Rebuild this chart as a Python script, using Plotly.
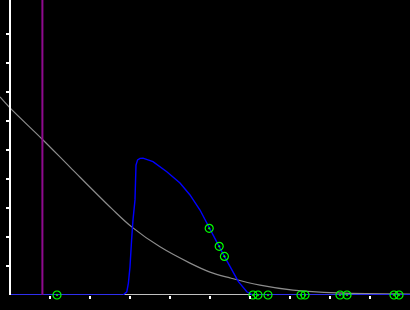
import plotly.graph_objects as go

# grey reference curve
grey_x = [-0.25, 0.0, 0.8, 1.5, 2.55, 3.05, 3.75, 4.5, 5.0, 5.5, 6.25, 7.075, 8.175, 10.0]
grey_y = [6.83, 6.45, 5.38, 4.41, 2.97, 2.34, 1.66, 1.10, 0.79, 0.59, 0.34, 0.17, 0.07, 0.03]

# blue density curve
blue_x = [0.0, 2.825, 2.92, 2.96, 3.0, 3.02, 3.04, 3.075, 3.125, 3.15, 3.19, 3.25, 3.325,
          3.575, 3.92, 4.25, 4.5, 4.75, 4.98, 5.23, 5.36, 5.71, 5.92, 6.075, 10.25]
blue_y = [0.0, 0.0, 0.11, 0.41, 0.97, 1.55, 1.9, 2.59, 3.28, 4.48, 4.66, 4.71, 4.72,
          4.6, 4.25, 3.86, 3.45, 2.93, 2.30, 1.67, 1.33, 0.46, 0.11, 0.0, 0.0]

# green sample points
pts_x = [1.175, 6.075, 6.2, 6.45, 7.275, 7.375, 8.25, 8.425, 9.6, 9.725, 4.98, 5.23, 5.36]
pts_y = [0, 0, 0, 0, 0, 0, 0, 0, 0, 0, 2.30, 1.68, 1.33]

# purple marker line
purple_x = 0.81

tick_vals_x = [1, 2, 3, 4, 5, 6, 7, 8, 9]
tick_vals_y = [1, 2, 3, 4, 5, 6, 7, 8, 9]

fig = go.Figure()

fig.add_trace(go.Scatter(x=grey_x, y=grey_y, mode="lines",
                         line=dict(color="#8c8c8c", width=1.2, shape="spline"),
                         hoverinfo="skip"))
fig.add_trace(go.Scatter(x=blue_x, y=blue_y, mode="lines",
                         line=dict(color="#0000ff", width=1.4),
                         hoverinfo="skip"))
fig.add_vline(x=purple_x, line=dict(color="#8e0a8e", width=2))
fig.add_trace(go.Scatter(x=pts_x, y=pts_y, mode="markers", cliponaxis=False,
                         marker=dict(symbol="circle-open-dot", size=8,
                                     color="#00ff00", line=dict(width=1.2, color="#00ff00")),
                         hoverinfo="skip"))

# x axis baseline (from origin to right edge)
fig.add_shape(type="line", xref="x", yref="y", x0=0, x1=10.25, y0=0, y1=0,
              line=dict(color="white", width=1.5), layer="below")

fig.update_layout(
    width=410, height=310,
    margin=dict(l=0, r=0, t=0, b=15, pad=0),
    paper_bgcolor="black", plot_bgcolor="black",
    showlegend=False,
    xaxis=dict(range=[-0.25, 10.0], showgrid=False, zeroline=False, showline=False,
               ticks="outside", ticklen=3, tickwidth=1.5, tickcolor="white",
               tickvals=tick_vals_x, showticklabels=False, fixedrange=True),
    yaxis=dict(range=[0, 295 / 29], anchor="free", position=10 / 410,
               showgrid=False, zeroline=False, showline=True, linecolor="white", linewidth=1.5,
               ticks="outside", ticklen=3, tickwidth=1.5, tickcolor="white",
               tickvals=tick_vals_y, showticklabels=False, fixedrange=True),
)

fig.write_html("out.html", config={"displayModeBar": False})
